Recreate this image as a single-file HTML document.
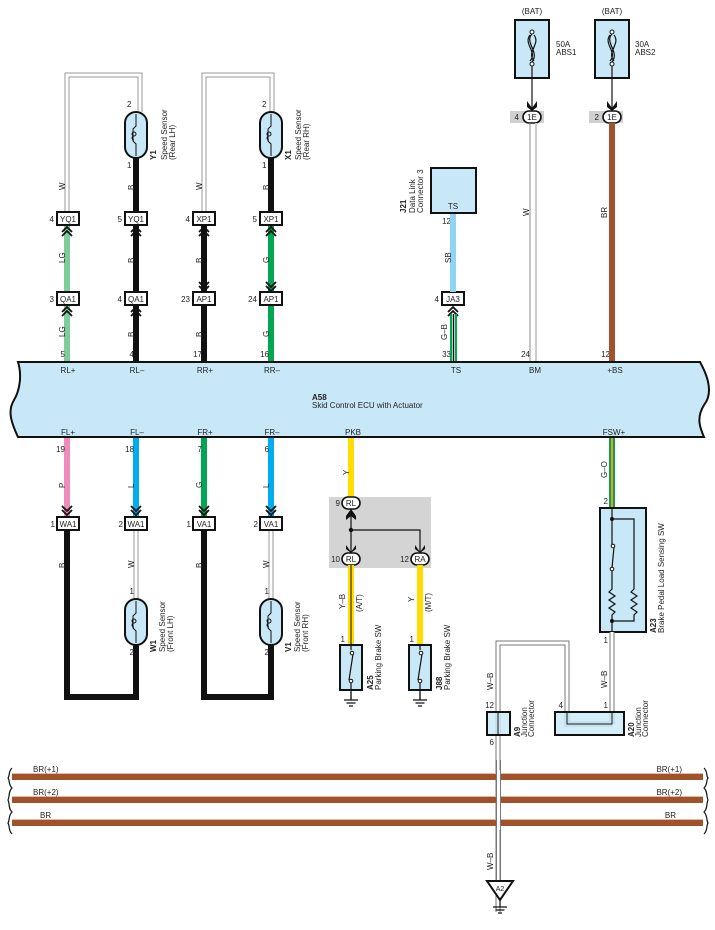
<!DOCTYPE html>
<html><head><meta charset="utf-8"><style>
html,body{margin:0;padding:0;background:#fff;}
svg{display:block;font-family:"Liberation Sans",sans-serif;}
text{font-size:8px;fill:#222;}
</style></head><body>
<svg width="715" height="930" viewBox="0 0 715 930" xmlns="http://www.w3.org/2000/svg">
<defs>
<g id="chu"><path d="M-5,4 L0,-1 L5,4 M-5,8 L0,3 L5,8" fill="none" stroke="#111" stroke-width="1.8"/></g>
<g id="chd"><path d="M-5,-4 L0,1 L5,-4 M-5,-8 L0,-3 L5,-8" fill="none" stroke="#111" stroke-width="1.8"/></g>
<g id="sens"><rect x="-11" y="0" width="22" height="46" rx="11" fill="#c8e8f8" stroke="#111" stroke-width="2"/><path d="M0,2 V14 L-3,17 V29 L0,32 V44" fill="none" stroke="#111" stroke-width="1"/><path d="M-2,20 a2,2 0 1,1 0,4 a2,2 0 1,1 0,-4 M-2,24 a2,2 0 1,0 0,4" fill="none" stroke="#111" stroke-width="1"/></g>
<g id="gnd"><path d="M0,0 V8 M-7,8 H7 M-4.5,11 H4.5 M-2,14 H2" stroke="#111" stroke-width="1.2" fill="none"/></g>
<g id="fuse"><rect x="-17" y="0" width="34" height="58" fill="#c8e8f8" stroke="#111" stroke-width="2"/><circle cx="0" cy="12" r="2" fill="#fff" stroke="#111"/><circle cx="0" cy="44" r="2" fill="#fff" stroke="#111"/><path d="M0,14 C-8,22 8,32 0,42 M-2,15 C-9,24 6,32 -2,41 M2,15 C9,24 -6,32 2,41" fill="none" stroke="#111" stroke-width="1.2"/></g>
</defs>

<!-- top rear sensor loops (W gray) -->
<path d="M67,212 V75 H140 V112" fill="none" stroke="#999" stroke-width="5"/>
<path d="M67,212 V75 H140 V112" fill="none" stroke="#fff" stroke-width="3"/>
<path d="M204,212 V75 H272 V112" fill="none" stroke="#999" stroke-width="5"/>
<path d="M204,212 V75 H272 V112" fill="none" stroke="#fff" stroke-width="3"/>
<!-- rear wires -->
<line x1="136" y1="158" x2="136" y2="212" stroke="#111" stroke-width="6"/>
<line x1="271" y1="158" x2="271" y2="212" stroke="#111" stroke-width="6"/>
<line x1="67" y1="226" x2="67" y2="292" stroke="#7fcc9b" stroke-width="6"/>
<line x1="67" y1="305" x2="67" y2="362" stroke="#7fcc9b" stroke-width="6"/>
<line x1="136" y1="226" x2="136" y2="292" stroke="#111" stroke-width="6"/>
<line x1="136" y1="305" x2="136" y2="362" stroke="#111" stroke-width="6"/>
<line x1="204" y1="226" x2="204" y2="292" stroke="#111" stroke-width="6"/>
<line x1="204" y1="305" x2="204" y2="362" stroke="#111" stroke-width="6"/>
<line x1="271" y1="226" x2="271" y2="292" stroke="#00a651" stroke-width="6"/>
<line x1="271" y1="305" x2="271" y2="362" stroke="#00a651" stroke-width="6"/>
<use href="#sens" x="136" y="112"/><use href="#sens" x="271" y="112"/>
<text x="127" y="107">2</text><text x="127" y="168">1</text>
<text x="262" y="107">2</text><text x="262" y="168">1</text>
<g transform="translate(156,160) rotate(-90)"><text font-weight="bold">Y1</text></g>
<g transform="translate(167,160) rotate(-90)"><text>Speed Sensor</text><text y="8">(Rear LH)</text></g>
<g transform="translate(291,160) rotate(-90)"><text font-weight="bold">X1</text></g>
<g transform="translate(301,160) rotate(-90)"><text>Speed Sensor</text><text y="8">(Rear RH)</text></g>
<!-- rear wire labels -->
<g transform="translate(65,190) rotate(-90)"><text>W</text></g>
<g transform="translate(134,190) rotate(-90)"><text>B</text></g>
<g transform="translate(202,190) rotate(-90)"><text>W</text></g>
<g transform="translate(269,190) rotate(-90)"><text>B</text></g>
<g transform="translate(65,263) rotate(-90)"><text>LG</text></g>
<g transform="translate(134,263) rotate(-90)"><text>B</text></g>
<g transform="translate(202,263) rotate(-90)"><text>B</text></g>
<g transform="translate(269,263) rotate(-90)"><text>G</text></g>
<g transform="translate(65,337) rotate(-90)"><text>LG</text></g>
<g transform="translate(134,337) rotate(-90)"><text>B</text></g>
<g transform="translate(202,337) rotate(-90)"><text>B</text></g>
<g transform="translate(269,337) rotate(-90)"><text>G</text></g>
<!-- connectors row 1 -->
<g stroke="#111" stroke-width="2" fill="#fff">
<rect x="57" y="212" width="22" height="13"/><rect x="125" y="212" width="22" height="13"/>
<rect x="193" y="212" width="22" height="13"/><rect x="260" y="212" width="22" height="13"/>
<rect x="57" y="292" width="22" height="13"/><rect x="125" y="292" width="22" height="13"/>
<rect x="193" y="292" width="22" height="13"/><rect x="260" y="292" width="22" height="13"/>
<rect x="442" y="292" width="22" height="13"/>
</g>
<g text-anchor="middle">
<text x="68" y="222">YQ1</text><text x="136" y="222">YQ1</text><text x="204" y="222">XP1</text><text x="271" y="222">XP1</text>
<text x="68" y="302">QA1</text><text x="136" y="302">QA1</text><text x="204" y="302">AP1</text><text x="271" y="302">AP1</text>
<text x="453" y="302">JA3</text>
</g>
<g text-anchor="end">
<text x="54" y="222">4</text><text x="122" y="222">5</text><text x="190" y="222">4</text><text x="257" y="222">5</text>
<text x="54" y="302">3</text><text x="122" y="302">4</text><text x="190" y="302">23</text><text x="257" y="302">24</text>
<text x="439" y="302">4</text>
<text x="65" y="357">5</text><text x="134" y="357">4</text><text x="202" y="357">17</text><text x="269" y="357">16</text>
<text x="451" y="357">33</text><text x="530" y="357">24</text><text x="610" y="357">12</text>
</g>
<use href="#chu" x="67" y="228"/><use href="#chu" x="136" y="228"/><use href="#chu" x="204" y="228"/><use href="#chu" x="271" y="228"/>
<use href="#chd" x="204" y="290"/><use href="#chd" x="271" y="290"/>
<use href="#chu" x="67" y="308"/><use href="#chu" x="136" y="308"/><use href="#chu" x="453" y="308"/>

<!-- J21 -->
<rect x="431" y="168" width="45" height="45" fill="#c8e8f8" stroke="#111" stroke-width="2"/>
<text x="453" y="209" text-anchor="middle">TS</text>
<g transform="translate(406,213) rotate(-90)"><text font-weight="bold">J21</text></g>
<g transform="translate(415,213) rotate(-90)"><text>Data Link</text><text y="8">Connector 3</text></g>
<text x="451" y="224" text-anchor="end">12</text>
<line x1="453" y1="214" x2="453" y2="292" stroke="#8fd3f5" stroke-width="6"/>
<g transform="translate(451,263) rotate(-90)"><text>SB</text></g>
<line x1="451" y1="314" x2="451" y2="362" stroke="#00a651" stroke-width="2"/>
<line x1="453.5" y1="314" x2="453.5" y2="362" stroke="#111" stroke-width="1.5"/>
<line x1="456" y1="314" x2="456" y2="362" stroke="#00a651" stroke-width="2"/>
<g transform="translate(447,340) rotate(-90)"><text>G–B</text></g>

<!-- fuses -->
<text x="532" y="14" text-anchor="middle">(BAT)</text><text x="612" y="14" text-anchor="middle">(BAT)</text>
<use href="#fuse" x="532" y="20"/><use href="#fuse" x="612" y="20"/>
<text x="556" y="47">50A</text><text x="556" y="55">ABS1</text>
<text x="635" y="47">30A</text><text x="635" y="55">ABS2</text>
<line x1="532" y1="66" x2="532" y2="108" stroke="#111" stroke-width="1.2"/>
<line x1="612" y1="66" x2="612" y2="108" stroke="#111" stroke-width="1.2"/>
<path d="M527,101 L532,108 L537,101 L537,107 L532,111 L527,107Z" fill="#111"/>
<path d="M607,101 L612,108 L617,101 L617,107 L612,111 L607,107Z" fill="#111"/>
<rect x="510" y="111" width="34" height="12" fill="#d0d0d0"/><rect x="589" y="111" width="34" height="12" fill="#d0d0d0"/>
<rect x="523" y="111" width="18" height="12" rx="6" fill="#fff" stroke="#111" stroke-width="1.6"/>
<rect x="603" y="111" width="18" height="12" rx="6" fill="#fff" stroke="#111" stroke-width="1.6"/>
<text x="532" y="120" text-anchor="middle">1E</text><text x="612" y="120" text-anchor="middle">1E</text>
<text x="519" y="120" text-anchor="end">4</text><text x="599" y="120" text-anchor="end">2</text>
<line x1="530" y1="123" x2="530" y2="362" stroke="#888" stroke-width="1"/>
<line x1="536" y1="123" x2="536" y2="362" stroke="#ccc" stroke-width="2"/>
<g transform="translate(529,216) rotate(-90)"><text>W</text></g>
<line x1="612" y1="123" x2="612" y2="362" stroke="#a0522d" stroke-width="6"/>
<g transform="translate(607,218) rotate(-90)"><text>BR</text></g>

<!-- ECU -->
<path d="M18,362 H700 C710,380 712,395 704,405 C696,418 700,428 704,437 H18 C10,420 8,410 14,400 C20,390 22,375 18,362Z" fill="#c8e8f8" stroke="#111" stroke-width="2"/>
<g text-anchor="middle">
<text x="68" y="373">RL+</text><text x="137" y="373">RL–</text><text x="205" y="373">RR+</text><text x="272" y="373">RR–</text>
<text x="456" y="373">TS</text><text x="535" y="373">BM</text><text x="615" y="373">+BS</text>
<text x="68" y="435">FL+</text><text x="137" y="435">FL–</text><text x="205" y="435">FR+</text><text x="272" y="435">FR–</text>
<text x="353" y="435">PKB</text><text x="614" y="435">FSW+</text>
</g>
<text x="312" y="400" font-weight="bold">A58</text>
<text x="312" y="408">Skid Control ECU with Actuator</text>

<!-- front wires -->
<line x1="67" y1="438" x2="67" y2="516" stroke="#f08cbc" stroke-width="6"/>
<line x1="136" y1="438" x2="136" y2="516" stroke="#00aeef" stroke-width="6"/>
<line x1="204" y1="438" x2="204" y2="516" stroke="#00a651" stroke-width="6"/>
<line x1="271" y1="438" x2="271" y2="516" stroke="#00aeef" stroke-width="6"/>
<g text-anchor="end">
<text x="65" y="452">19</text><text x="134" y="452">18</text><text x="202" y="452">7</text><text x="269" y="452">6</text>
<text x="55" y="527">1</text><text x="123" y="527">2</text><text x="191" y="527">1</text><text x="258" y="527">2</text>
<text x="134" y="594">1</text><text x="134" y="655">2</text><text x="269" y="594">1</text><text x="269" y="655">2</text>
</g>
<g transform="translate(65,488) rotate(-90)"><text>P</text></g>
<g transform="translate(134,488) rotate(-90)"><text>L</text></g>
<g transform="translate(202,488) rotate(-90)"><text>G</text></g>
<g transform="translate(269,488) rotate(-90)"><text>L</text></g>
<use href="#chd" x="67" y="514"/><use href="#chd" x="136" y="514"/><use href="#chd" x="204" y="514"/><use href="#chd" x="271" y="514"/>
<path d="M67,530 V697 H136 V645" fill="none" stroke="#111" stroke-width="6"/>
<path d="M204,530 V697 H271 V645" fill="none" stroke="#111" stroke-width="6"/>
<line x1="136" y1="530" x2="136" y2="599" stroke="#999" stroke-width="5"/><line x1="136" y1="530" x2="136" y2="599" stroke="#fff" stroke-width="3"/>
<line x1="271" y1="530" x2="271" y2="599" stroke="#999" stroke-width="5"/><line x1="271" y1="530" x2="271" y2="599" stroke="#fff" stroke-width="3"/>
<use href="#sens" x="136" y="599"/><use href="#sens" x="271" y="599"/>
<g stroke="#111" stroke-width="2" fill="#fff">
<rect x="57" y="517" width="22" height="13"/><rect x="125" y="517" width="22" height="13"/>
<rect x="193" y="517" width="22" height="13"/><rect x="260" y="517" width="22" height="13"/>
</g>
<g text-anchor="middle"><text x="68" y="527">WA1</text><text x="136" y="527">WA1</text><text x="204" y="527">VA1</text><text x="271" y="527">VA1</text></g>
<g transform="translate(65,568) rotate(-90)"><text>B</text></g>
<g transform="translate(134,568) rotate(-90)"><text>W</text></g>
<g transform="translate(202,568) rotate(-90)"><text>B</text></g>
<g transform="translate(269,568) rotate(-90)"><text>W</text></g>
<g transform="translate(156,652) rotate(-90)"><text font-weight="bold">W1</text></g>
<g transform="translate(165,652) rotate(-90)"><text>Speed Sensor</text><text y="8">(Front LH)</text></g>
<g transform="translate(291,652) rotate(-90)"><text font-weight="bold">V1</text></g>
<g transform="translate(300,652) rotate(-90)"><text>Speed Sensor</text><text y="8">(Front RH)</text></g>

<!-- PKB -->
<line x1="351" y1="438" x2="351" y2="497" stroke="#ffdd00" stroke-width="6"/>
<g transform="translate(349,475) rotate(-90)"><text>Y</text></g>
<rect x="329" y="497" width="102" height="71" fill="#d4d4d4"/>
<line x1="351" y1="509" x2="351" y2="553" stroke="#111" stroke-width="1.2"/>
<path d="M351,530 H420 V553" fill="none" stroke="#111" stroke-width="1.2"/>
<circle cx="351" cy="530" r="2.2" fill="#111"/>
<path d="M346,516 L351,509 L356,516 L356,520 L351,516 L346,520Z" fill="#111"/>
<path d="M346,545 L351,552 L356,545 L356,549 L351,553 L346,549Z" fill="#111"/>
<path d="M415,545 L420,552 L425,545 L425,549 L420,553 L415,549Z" fill="#111"/>
<rect x="342" y="497" width="18" height="12" rx="6" fill="#fff" stroke="#111" stroke-width="1.6"/>
<rect x="342" y="553" width="18" height="12" rx="6" fill="#fff" stroke="#111" stroke-width="1.6"/>
<rect x="411" y="553" width="18" height="12" rx="6" fill="#fff" stroke="#111" stroke-width="1.6"/>
<text x="351" y="506" text-anchor="middle">RL</text><text x="351" y="562" text-anchor="middle">RL</text><text x="420" y="562" text-anchor="middle">RA</text>
<text x="340" y="506" text-anchor="end">9</text><text x="340" y="562" text-anchor="end">10</text><text x="409" y="562" text-anchor="end">12</text>
<line x1="351" y1="565" x2="351" y2="645" stroke="#ffdd00" stroke-width="6"/>
<line x1="351" y1="565" x2="351" y2="645" stroke="#111" stroke-width="1"/>
<line x1="420" y1="565" x2="420" y2="645" stroke="#ffdd00" stroke-width="6"/>
<g transform="translate(345,609) rotate(-90)"><text>Y–B</text></g>
<g transform="translate(362,612) rotate(-90)"><text>(A/T)</text></g>
<g transform="translate(414,602) rotate(-90)"><text>Y</text></g>
<g transform="translate(431,612) rotate(-90)"><text>(M/T)</text></g>
<text x="345" y="642" text-anchor="end">1</text><text x="414" y="642" text-anchor="end">1</text>
<rect x="340" y="645" width="22" height="45" fill="#c8e8f8" stroke="#111" stroke-width="2"/>
<rect x="409" y="645" width="22" height="45" fill="#c8e8f8" stroke="#111" stroke-width="2"/>
<path d="M351,645 V650 M353,654 L349,680 M351,682 V700" stroke="#111" stroke-width="1.2" fill="none"/>
<path d="M420,645 V650 M422,654 L418,680 M420,682 V700" stroke="#111" stroke-width="1.2" fill="none"/>
<circle cx="352" cy="653" r="1.8" fill="#fff" stroke="#111"/><circle cx="351" cy="681" r="1.8" fill="#fff" stroke="#111"/>
<circle cx="421" cy="653" r="1.8" fill="#fff" stroke="#111"/><circle cx="420" cy="681" r="1.8" fill="#fff" stroke="#111"/>
<use href="#gnd" x="351" y="692"/><use href="#gnd" x="420" y="692"/>
<g transform="translate(373,690) rotate(-90)"><text font-weight="bold">A25</text></g>
<g transform="translate(381,690) rotate(-90)"><text>Parking Brake SW</text></g>
<g transform="translate(442,690) rotate(-90)"><text font-weight="bold">J88</text></g>
<g transform="translate(450,690) rotate(-90)"><text>Parking Brake SW</text></g>

<!-- FSW -->
<line x1="612" y1="438" x2="612" y2="508" stroke="#00a651" stroke-width="6"/>
<line x1="612" y1="438" x2="612" y2="508" stroke="#f7941d" stroke-width="2"/>
<g transform="translate(607,478) rotate(-90)"><text>G–O</text></g>
<text x="608" y="504" text-anchor="end">2</text>
<rect x="600" y="508" width="46" height="124" fill="#c8e8f8" stroke="#111" stroke-width="2"/>
<path d="M612,508 V546 M612,569 V589 L609,592 L615,596 L609,600 L615,604 L609,608 L615,612 L612,615 V632 M612,519 H634 V589 L631,592 L637,596 L631,600 L637,604 L631,608 L637,612 L634,615 V621 H612" stroke="#111" stroke-width="1.2" fill="none"/>
<line x1="614" y1="547" x2="612" y2="568" stroke="#111" stroke-width="1.2"/>
<circle cx="612" cy="519" r="2" fill="#111"/><circle cx="612" cy="621" r="2" fill="#111"/>
<circle cx="613" cy="546" r="1.8" fill="#fff" stroke="#111"/><circle cx="612" cy="569" r="1.8" fill="#fff" stroke="#111"/>
<g transform="translate(656,633) rotate(-90)"><text font-weight="bold">A23</text></g>
<g transform="translate(664,633) rotate(-90)"><text>Brake Pedal Load Sensing SW</text></g>
<text x="608" y="643" text-anchor="end">1</text>
<!-- W-B wires -->
<g fill="none">
<path d="M612,632 V724 M498,912 V643 H567 V724 H612" stroke="#777" stroke-width="5"/>
<path d="M612,632 V724 M498,912 V643 H567 V724 H612" stroke="#fff" stroke-width="3"/>
</g>
<g transform="translate(607,688) rotate(-90)"><text>W–B</text></g>
<g transform="translate(493,690) rotate(-90)"><text>W–B</text></g>
<g transform="translate(493,870) rotate(-90)"><text>W–B</text></g>
<rect x="487" y="712" width="23" height="23" fill="none" stroke="#111" stroke-width="2"/>
<rect x="555" y="712" width="69" height="23" fill="none" stroke="#111" stroke-width="2"/>
<rect x="488" y="713" width="21" height="21" fill="#c8e8f8" opacity="0.8"/>
<rect x="556" y="713" width="67" height="21" fill="#c8e8f8" opacity="0.8"/>
<path d="M498,712 V735 M567,712 V724 H612 V712" stroke="#111" stroke-width="1" fill="none"/>
<text x="494" y="708" text-anchor="end">12</text><text x="494" y="745" text-anchor="end">6</text>
<text x="563" y="708" text-anchor="end">4</text><text x="608" y="708" text-anchor="end">1</text>
<g transform="translate(520,737) rotate(-90)"><text font-weight="bold">A9</text></g>
<g transform="translate(527,737) rotate(-90)"><text>Junction</text><text y="7">Connector</text></g>
<g transform="translate(634,737) rotate(-90)"><text font-weight="bold">A20</text></g>
<g transform="translate(641,737) rotate(-90)"><text>Junction</text><text y="7">Connector</text></g>

<!-- BR buses -->
<g stroke="#a0522d" stroke-width="6"><line x1="12" y1="777" x2="703" y2="777"/><line x1="12" y1="800" x2="703" y2="800"/><line x1="12" y1="823" x2="703" y2="823"/></g>
<g stroke="#e8b8a0" stroke-width="1"><line x1="12" y1="773.5" x2="703" y2="773.5"/><line x1="12" y1="796.5" x2="703" y2="796.5"/><line x1="12" y1="819.5" x2="703" y2="819.5"/></g>
<rect x="496" y="770" width="5" height="60" fill="#fff"/>
<line x1="496.5" y1="760" x2="496.5" y2="880" stroke="#777"/><line x1="500.5" y1="760" x2="500.5" y2="880" stroke="#777"/>
<path d="M12,768 C8,772 10,776 8,778 C10,780 8,784 12,788 C8,792 10,796 8,800 C10,804 8,808 12,812 C8,816 10,820 8,823 C10,826 8,830 12,834" fill="none" stroke="#111" stroke-width="1.2"/>
<path d="M704,768 C708,772 706,776 708,778 C706,780 708,784 704,788 C708,792 706,796 708,800 C706,804 708,808 704,812 C708,816 706,820 708,823 C706,826 708,830 704,834" fill="none" stroke="#111" stroke-width="1.2"/>
<text x="33" y="772">BR(+1)</text><text x="33" y="795">BR(+2)</text><text x="40" y="818">BR</text>
<text x="682" y="772" text-anchor="end">BR(+1)</text><text x="682" y="795" text-anchor="end">BR(+2)</text><text x="676" y="818" text-anchor="end">BR</text>
<path d="M487,881 H513 L500,900Z" fill="#fff" stroke="#111" stroke-width="2"/>
<text x="500" y="891" text-anchor="middle" style="font-size:7px">A2</text>
<use href="#gnd" x="500" y="899"/>
</svg>
</body></html>
